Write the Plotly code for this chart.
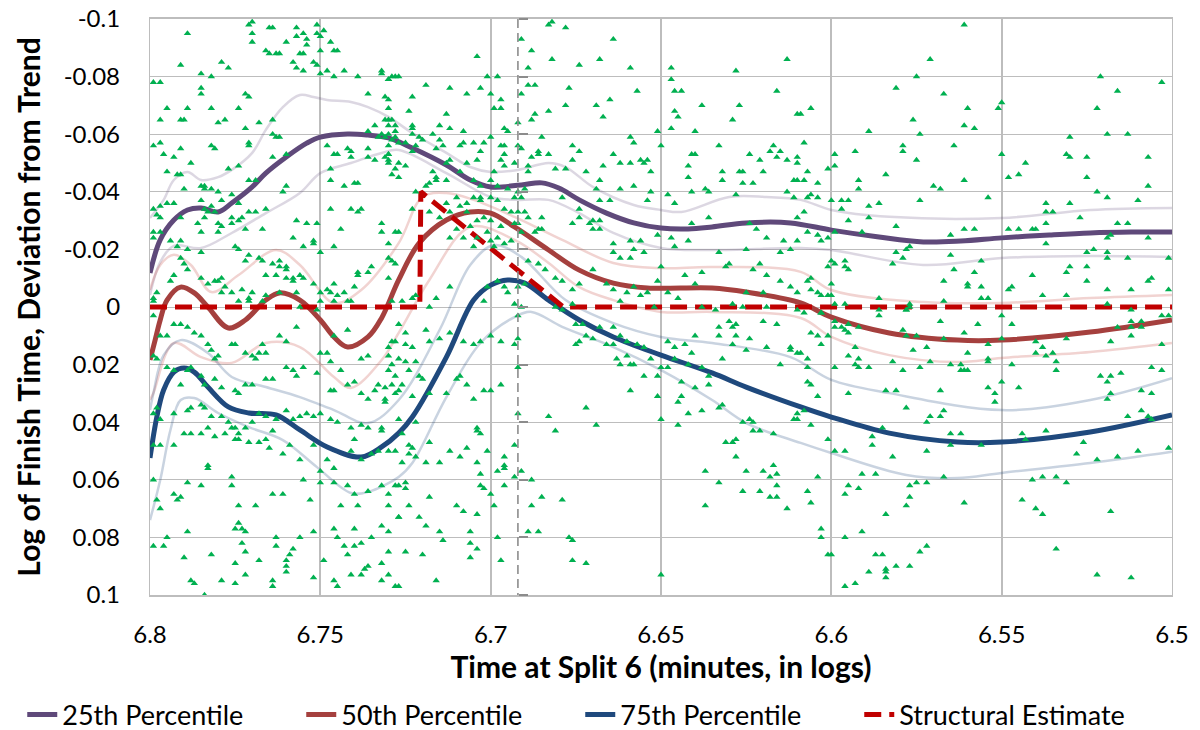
import plotly.graph_objects as go

# ---------------- axis ticks ----------------
x_tick_vals = [6.8, 6.75, 6.7, 6.65, 6.6, 6.55, 6.5]
x_tick_text = ["6.8", "6.75", "6.7", "6.65", "6.6", "6.55", "6.5"]
y_tick_vals = [-0.1, -0.08, -0.06, -0.04, -0.02, 0, 0.02, 0.04, 0.06, 0.08, 0.1]
y_tick_text = ["-0.1", "-0.08", "-0.06", "-0.04", "-0.02", "0", "0.02", "0.04", "0.06", "0.08", "0.1"]

# ---------------- percentile curves ----------------
p25_x = [6.800, 6.797, 6.793, 6.789, 6.785, 6.780, 6.776, 6.770, 6.766, 6.760, 6.754, 6.750, 6.742, 6.736,
         6.730, 6.723, 6.713, 6.706, 6.700, 6.691, 6.685, 6.680, 6.674, 6.666, 6.658, 6.650, 6.642, 6.635,
         6.625, 6.612, 6.600, 6.586, 6.573, 6.562, 6.550, 6.536, 6.524, 6.512, 6.500]
p25_y = [-0.0118, -0.0233, -0.0302, -0.0337, -0.0344, -0.0330, -0.0361, -0.0417, -0.0465, -0.0521, -0.0569,
         -0.0590, -0.0601, -0.0597, -0.0587, -0.0552, -0.0493, -0.0441, -0.0417, -0.0424, -0.0431, -0.0413,
         -0.0372, -0.0326, -0.0292, -0.0274, -0.0271, -0.0278, -0.0292, -0.0292, -0.0267, -0.0243, -0.0226,
         -0.0229, -0.0240, -0.0250, -0.0257, -0.0260, -0.0260]
p25_hi_x = [6.800, 6.796, 6.793, 6.789, 6.785, 6.780, 6.776, 6.770, 6.766, 6.761, 6.756, 6.752, 6.748, 6.741,
            6.736, 6.730, 6.723, 6.713, 6.706, 6.700, 6.692, 6.683, 6.678, 6.670, 6.658, 6.650, 6.644, 6.630,
            6.619, 6.609, 6.600, 6.583, 6.550, 6.524, 6.500]
p25_hi_y = [-0.0309, -0.0372, -0.0441, -0.0469, -0.0441, -0.0451, -0.0476, -0.0535, -0.0615, -0.0694, -0.0736,
            -0.0729, -0.0719, -0.0712, -0.0694, -0.0660, -0.0604, -0.0535, -0.0486, -0.0469, -0.0476, -0.0500,
            -0.0486, -0.0417, -0.0354, -0.0337, -0.0330, -0.0382, -0.0382, -0.0372, -0.0337, -0.0313, -0.0309,
            -0.0337, -0.0344]
p25_lo_x = [6.800, 6.797, 6.793, 6.785, 6.776, 6.766, 6.756, 6.750, 6.741, 6.732, 6.727, 6.713, 6.700, 6.692,
            6.683, 6.674, 6.664, 6.650, 6.635, 6.609, 6.600, 6.573, 6.550, 6.524, 6.500]
p25_lo_y = [-0.0042, -0.0156, -0.0212, -0.0205, -0.0257, -0.0326, -0.0396, -0.0465, -0.0500, -0.0535, -0.0545,
            -0.0465, -0.0382, -0.0372, -0.0372, -0.0326, -0.0257, -0.0205, -0.0198, -0.0205, -0.0198, -0.0146,
            -0.0170, -0.0177, -0.0174]

p50_x = [6.800, 6.7985, 6.797, 6.795, 6.791, 6.787, 6.783, 6.777, 6.772, 6.766, 6.762, 6.756, 6.750, 6.746,
         6.742, 6.736, 6.732, 6.727, 6.721, 6.713, 6.706, 6.700, 6.693, 6.683, 6.674, 6.664, 6.654, 6.635,
         6.625, 6.609, 6.600, 6.583, 6.563, 6.550, 6.524, 6.500]
p50_y = [0.0184, 0.0115, 0.0045, -0.0024, -0.0069, -0.0049, 0.0000, 0.0073, 0.0045, -0.0024, -0.0049, -0.0024,
         0.0045, 0.0104, 0.0139, 0.0104, 0.0038, -0.0094, -0.0222, -0.0302, -0.0330, -0.0326, -0.0278, -0.0198,
         -0.0128, -0.0083, -0.0066, -0.0066, -0.0052, -0.0014, 0.0035, 0.0090, 0.0115, 0.0115, 0.0087, 0.0045]
p50_hi_x = [6.800, 6.797, 6.793, 6.788, 6.782, 6.774, 6.763, 6.756, 6.746, 6.738, 6.727, 6.720, 6.713, 6.705,
            6.693, 6.679, 6.664, 6.650, 6.635, 6.609, 6.600, 6.573, 6.550, 6.524, 6.500]
p50_hi_y = [-0.0059, -0.0146, -0.0181, -0.0146, -0.0052, -0.0111, -0.0198, -0.0146, -0.0014, -0.0059, -0.0222,
            -0.0382, -0.0396, -0.0372, -0.0313, -0.0233, -0.0153, -0.0135, -0.0139, -0.0122, -0.0059, -0.0017,
            -0.0014, -0.0031, -0.0042]
p50_lo_x = [6.800, 6.799, 6.793, 6.785, 6.776, 6.766, 6.756, 6.746, 6.741, 6.732, 6.727, 6.718, 6.706, 6.693,
            6.683, 6.674, 6.664, 6.650, 6.635, 6.609, 6.600, 6.583, 6.563, 6.550, 6.524, 6.500]
p50_lo_y = [0.0323, 0.0299, 0.0125, 0.0174, 0.0194, 0.0125, 0.0139, 0.0243, 0.0281, 0.0184, 0.0090, -0.0094,
            -0.0278, -0.0233, -0.0153, -0.0069, -0.0024, 0.0017, 0.0017, 0.0038, 0.0104, 0.0167, 0.0191, 0.0177,
            0.0156, 0.0125]

p75_x = [6.800, 6.798, 6.796, 6.793, 6.790, 6.787, 6.783, 6.777, 6.771, 6.763, 6.756, 6.748, 6.738, 6.732,
         6.727, 6.723, 6.713, 6.705, 6.700, 6.695, 6.690, 6.683, 6.674, 6.664, 6.650, 6.635, 6.625, 6.609,
         6.600, 6.583, 6.563, 6.550, 6.524, 6.500]
p75_y = [0.0524, 0.0382, 0.0288, 0.0226, 0.0212, 0.0226, 0.0278, 0.0347, 0.0368, 0.0375, 0.0427, 0.0486, 0.0521,
         0.0486, 0.0438, 0.0382, 0.0174, -0.0024, -0.0076, -0.0094, -0.0083, -0.0024, 0.0045, 0.0104, 0.0167,
         0.0229, 0.0278, 0.0347, 0.0382, 0.0438, 0.0469, 0.0469, 0.0434, 0.0375]
p75_hi_x = [6.800, 6.799, 6.796, 6.791, 6.783, 6.776, 6.766, 6.756, 6.746, 6.736, 6.727, 6.715, 6.706, 6.699,
            6.691, 6.678, 6.664, 6.650, 6.635, 6.612, 6.600, 6.583, 6.550, 6.524, 6.500]
p75_hi_y = [0.0358, 0.0299, 0.0167, 0.0115, 0.0160, 0.0243, 0.0278, 0.0313, 0.0358, 0.0403, 0.0323, 0.0080,
            -0.0146, -0.0215, -0.0174, -0.0024, 0.0056, 0.0104, 0.0125, 0.0174, 0.0253, 0.0299, 0.0358, 0.0323,
            0.0247]
p75_lo_x = [6.800, 6.797, 6.794, 6.791, 6.787, 6.780, 6.771, 6.761, 6.751, 6.741, 6.736, 6.727, 6.723, 6.713,
            6.703, 6.693, 6.688, 6.679, 6.664, 6.650, 6.635, 6.625, 6.609, 6.600, 6.578, 6.563, 6.550, 6.524, 6.500]
p75_lo_y = [0.0740, 0.0601, 0.0427, 0.0323, 0.0316, 0.0368, 0.0417, 0.0462, 0.0556, 0.0646, 0.0642, 0.0590,
            0.0542, 0.0313, 0.0125, 0.0035, 0.0017, 0.0069, 0.0139, 0.0219, 0.0323, 0.0403, 0.0472, 0.0507,
            0.0583, 0.0594, 0.0576, 0.0542, 0.0503]

# ---------------- structural estimate ----------------
structural_x = [6.800, 6.7208, 6.7205, 6.6787, 6.500]
structural_y = [0.0, 0.0, -0.040, 0.0, 0.0]

# vertical reference (dashed) line
cutoff_x = 6.692

# ---------------- runners (split time, finish deviation) ----------------
runners_far_left_top = [
    (6.771, -0.098), (6.770, -0.099), (6.770, -0.095), (6.770, -0.092), (6.765, -0.097), (6.764, -0.097),
    (6.789, -0.095), (6.757, -0.097), (6.757, -0.094), (6.755, -0.095), (6.754, -0.093), (6.751, -0.098),
    (6.751, -0.095), (6.750, -0.094), (6.749, -0.096), (6.754, -0.091), (6.760, -0.092), (6.766, -0.089),
    (6.763, -0.088), (6.762, -0.088), (6.765, -0.088), (6.756, -0.088), (6.755, -0.088), (6.750, -0.089),
    (6.747, -0.092), (6.746, -0.089), (6.745, -0.089), (6.791, -0.084), (6.779, -0.085), (6.777, -0.083),
    (6.758, -0.085), (6.757, -0.083), (6.755, -0.082), (6.752, -0.085), (6.751, -0.084), (6.750, -0.081),
    (6.748, -0.082), (6.743, -0.082), (6.739, -0.080), (6.746, -0.080), (6.736, -0.074), (6.732, -0.082),
    (6.730, -0.079), (6.728, -0.080), (6.727, -0.080), (6.799, -0.078), (6.797, -0.078), (6.785, -0.081),
    (6.782, -0.080), (6.785, -0.076), (6.785, -0.074), (6.772, -0.074), (6.771, -0.073), (6.782, -0.069),
    (6.789, -0.069), (6.795, -0.069), (6.797, -0.065), (6.791, -0.065), (6.790, -0.065), (6.780, -0.064),
    (6.778, -0.065), (6.774, -0.069), (6.772, -0.062), (6.768, -0.064), (6.764, -0.065), (6.764, -0.060),
    (6.763, -0.059), (6.762, -0.059), (6.771, -0.057), (6.771, -0.056), (6.799, -0.056), (6.797, -0.057),
    (6.796, -0.053), (6.793, -0.052), (6.791, -0.055), (6.788, -0.050), (6.782, -0.056), (6.781, -0.055),
    (6.777, -0.048), (6.774, -0.049), (6.771, -0.044), (6.769, -0.044), (6.764, -0.052), (6.760, -0.053),
    (6.795, -0.047), (6.792, -0.046), (6.791, -0.046), (6.790, -0.041), (6.785, -0.042), (6.784, -0.042),
    (6.784, -0.041), (6.782, -0.041), (6.785, -0.037), (6.782, -0.035), (6.780, -0.040), (6.779, -0.037),
    (6.776, -0.039), (6.774, -0.036), (6.776, -0.031), (6.774, -0.030), (6.773, -0.031), (6.776, -0.029),
    (6.772, -0.027), (6.767, -0.027), (6.781, -0.033), (6.784, -0.034), (6.799, -0.034), (6.798, -0.032),
    (6.797, -0.031), (6.797, -0.035), (6.795, -0.036), (6.793, -0.036), (6.791, -0.031), (6.786, -0.029),
    (6.784, -0.031), (6.783, -0.033), (6.780, -0.029), (6.779, -0.028), (6.799, -0.026), (6.799, -0.024),
    (6.797, -0.026), (6.794, -0.023), (6.792, -0.021), (6.791, -0.023), (6.789, -0.020), (6.785, -0.019),
    (6.785, -0.026), (6.780, -0.026), (6.771, -0.033), (6.769, -0.033), (6.766, -0.034), (6.761, -0.040),
    (6.760, -0.042), (6.757, -0.030), (6.754, -0.029), (6.758, -0.024), (6.752, -0.023), (6.752, -0.022),
    (6.755, -0.021), (6.750, -0.019), (6.747, -0.044), (6.747, -0.048), (6.746, -0.053), (6.748, -0.056),
    (6.745, -0.053), (6.743, -0.042), (6.740, -0.043), (6.739, -0.043), (6.742, -0.055), (6.741, -0.054),
    (6.741, -0.052), (6.747, -0.034), (6.741, -0.034), (6.739, -0.033), (6.738, -0.034), (6.744, -0.027),
    (6.751, -0.029), (6.775, -0.021), (6.774, -0.020), (6.772, -0.016), (6.771, -0.018), (6.768, -0.017),
    (6.767, -0.016), (6.764, -0.015), (6.762, -0.016), (6.760, -0.013), (6.760, -0.014), (6.762, -0.014),
    (6.766, -0.011), (6.763, -0.011), (6.760, -0.010), (6.758, -0.009), (6.758, -0.010), (6.756, -0.011),
    (6.755, -0.010), (6.746, -0.021), (6.739, -0.012), (6.731, -0.065), (6.729, -0.065), (6.730, -0.063),
    (6.728, -0.059), (6.730, -0.056), (6.730, -0.053), (6.731, -0.052), (6.730, -0.050), (6.727, -0.050),
    (6.736, -0.055), (6.736, -0.052), (6.734, -0.051), (6.728, -0.048), (6.729, -0.046), (6.736, -0.061),
    (6.734, -0.063), (6.733, -0.059), (6.730, -0.060), (6.728, -0.061), (6.727, -0.026), (6.730, -0.017),
    (6.729, -0.016), (6.735, -0.014), (6.736, -0.012), (6.739, -0.011), (6.740, -0.007), (6.746, -0.008),
    (6.748, -0.006), (6.747, -0.005), (6.745, -0.004), (6.743, -0.005), (6.741, -0.002), (6.742, -0.002),
    (6.746, -0.002), (6.750, -0.005), (6.752, -0.008), (6.750, -0.002), (6.757, -0.005), (6.762, -0.005),
    (6.766, -0.004), (6.770, -0.005), (6.771, -0.003), (6.773, -0.006), (6.779, -0.010), (6.780, -0.009),
    (6.783, -0.008), (6.781, -0.009), (6.789, -0.013), (6.790, -0.015), (6.791, -0.017), (6.793, -0.011),
    (6.794, -0.009), (6.798, -0.005), (6.799, -0.003), (6.799, -0.002), (6.785, -0.010), (6.779, -0.005),
    (6.778, -0.007), (6.776, -0.005), (6.774, -0.002), (6.771, -0.002), (6.767, -0.002),
]

runners_far_left_bottom = [
    (6.799, 0.003), (6.797, 0.010), (6.795, 0.010), (6.793, 0.006), (6.791, 0.006), (6.789, 0.007),
    (6.787, 0.009), (6.785, 0.010), (6.783, 0.013), (6.782, 0.015), (6.781, 0.018), (6.780, 0.017),
    (6.776, 0.013), (6.775, 0.013), (6.772, 0.016), (6.770, 0.017), (6.769, 0.018), (6.768, 0.016),
    (6.767, 0.013), (6.766, 0.016), (6.762, 0.010), (6.760, 0.012), (6.757, 0.007), (6.756, 0.000),
    (6.751, 0.001), (6.750, 0.016), (6.748, 0.016), (6.747, 0.019), (6.746, 0.010), (6.742, 0.008),
    (6.738, 0.018), (6.736, 0.017), (6.730, 0.014), (6.729, 0.012), (6.799, 0.017), (6.798, 0.018),
    (6.795, 0.021), (6.793, 0.022), (6.791, 0.027), (6.789, 0.022), (6.788, 0.021), (6.785, 0.024),
    (6.784, 0.027), (6.781, 0.025), (6.779, 0.028), (6.775, 0.029), (6.774, 0.030), (6.772, 0.027),
    (6.770, 0.027), (6.766, 0.025), (6.764, 0.025), (6.760, 0.021), (6.758, 0.022), (6.757, 0.024),
    (6.755, 0.021), (6.751, 0.023), (6.747, 0.029), (6.746, 0.029), (6.744, 0.022), (6.742, 0.027),
    (6.740, 0.026), (6.738, 0.030), (6.736, 0.032), (6.734, 0.029), (6.733, 0.027), (6.731, 0.033),
    (6.729, 0.027), (6.727, 0.029), (6.799, 0.037), (6.798, 0.035), (6.797, 0.039), (6.793, 0.037),
    (6.789, 0.036), (6.788, 0.035), (6.785, 0.034), (6.784, 0.035), (6.782, 0.038), (6.779, 0.038),
    (6.777, 0.040), (6.776, 0.042), (6.775, 0.042), (6.774, 0.044), (6.772, 0.042), (6.770, 0.040),
    (6.768, 0.037), (6.766, 0.038), (6.763, 0.039), (6.760, 0.036), (6.758, 0.039), (6.756, 0.038),
    (6.754, 0.037), (6.752, 0.038), (6.750, 0.037), (6.747, 0.039), (6.745, 0.040), (6.741, 0.042),
    (6.740, 0.046), (6.738, 0.041), (6.736, 0.042), (6.732, 0.042), (6.727, 0.039), (6.799, 0.048),
    (6.797, 0.048), (6.793, 0.048), (6.790, 0.044), (6.788, 0.044), (6.785, 0.044), (6.783, 0.042),
    (6.781, 0.045), (6.778, 0.044), (6.775, 0.046), (6.774, 0.046), (6.771, 0.047), (6.768, 0.047),
    (6.766, 0.046), (6.765, 0.049), (6.764, 0.043), (6.761, 0.051), (6.759, 0.048), (6.756, 0.053),
    (6.752, 0.048), (6.750, 0.057), (6.748, 0.053), (6.746, 0.056), (6.741, 0.050), (6.738, 0.053),
    (6.735, 0.051), (6.733, 0.050), (6.730, 0.050), (6.728, 0.050), (6.799, 0.060), (6.798, 0.067),
    (6.797, 0.070), (6.793, 0.065), (6.792, 0.067), (6.791, 0.066), (6.789, 0.061), (6.785, 0.062),
    (6.783, 0.055), (6.783, 0.056), (6.776, 0.059), (6.776, 0.062), (6.774, 0.069), (6.769, 0.069),
    (6.764, 0.065), (6.761, 0.065), (6.755, 0.060), (6.753, 0.067), (6.750, 0.061), (6.746, 0.061),
    (6.744, 0.069), (6.742, 0.062), (6.740, 0.065), (6.739, 0.069), (6.736, 0.064), (6.732, 0.062),
    (6.730, 0.069), (6.727, 0.073), (6.799, 0.083), (6.796, 0.083), (6.795, 0.080), (6.790, 0.087),
    (6.789, 0.078), (6.782, 0.086), (6.775, 0.077), (6.774, 0.075), (6.773, 0.077), (6.772, 0.078),
    (6.773, 0.082), (6.775, 0.089), (6.772, 0.085), (6.768, 0.088), (6.763, 0.080), (6.763, 0.083),
    (6.760, 0.088), (6.759, 0.086), (6.756, 0.080), (6.752, 0.078), (6.749, 0.088), (6.746, 0.077),
    (6.745, 0.080), (6.743, 0.083), (6.742, 0.086), (6.740, 0.083), (6.740, 0.077), (6.738, 0.082),
    (6.736, 0.090), (6.735, 0.080), (6.732, 0.089), (6.730, 0.085), (6.788, 0.095), (6.787, 0.096),
    (6.784, 0.100), (6.779, 0.095), (6.775, 0.096), (6.772, 0.093), (6.764, 0.095), (6.764, 0.097),
    (6.760, 0.092), (6.760, 0.090), (6.758, 0.084), (6.752, 0.094), (6.746, 0.095), (6.745, 0.097),
    (6.741, 0.093), (6.738, 0.093), (6.737, 0.091), (6.732, 0.095), (6.727, 0.097), (6.730, 0.093),
]

runners_middle_top = [
    (6.683, -0.098), (6.682, -0.099), (6.678, -0.097), (6.664, -0.093), (6.691, -0.093), (6.688, -0.089),
    (6.704, -0.087), (6.682, -0.086), (6.674, -0.084), (6.668, -0.086), (6.659, -0.083), (6.647, -0.083),
    (6.628, -0.082), (6.613, -0.086), (6.689, -0.083), (6.689, -0.077), (6.687, -0.077), (6.691, -0.074),
    (6.677, -0.076), (6.665, -0.072), (6.657, -0.075), (6.647, -0.079), (6.646, -0.075), (6.644, -0.075),
    (6.616, -0.075), (6.701, -0.080), (6.698, -0.080), (6.697, -0.072), (6.700, -0.074), (6.703, -0.076),
    (6.707, -0.074), (6.712, -0.076), (6.719, -0.077), (6.723, -0.073), (6.730, -0.079), (6.729, -0.080),
    (6.730, -0.072), (6.731, -0.073), (6.730, -0.069), (6.732, -0.081), (6.697, -0.069), (6.699, -0.069),
    (6.724, -0.068), (6.713, -0.067), (6.730, -0.065), (6.728, -0.063), (6.723, -0.063), (6.723, -0.062),
    (6.715, -0.063), (6.712, -0.062), (6.708, -0.061), (6.696, -0.062), (6.695, -0.061), (6.692, -0.064),
    (6.687, -0.067), (6.688, -0.065), (6.683, -0.068), (6.678, -0.070), (6.669, -0.070), (6.667, -0.066),
    (6.651, -0.061), (6.647, -0.062), (6.646, -0.068), (6.645, -0.066), (6.638, -0.070), (6.640, -0.061),
    (6.629, -0.065), (6.627, -0.070), (6.609, -0.067), (6.732, -0.060), (6.731, -0.059), (6.729, -0.058),
    (6.727, -0.057), (6.725, -0.057), (6.723, -0.060), (6.721, -0.059), (6.720, -0.058), (6.722, -0.056),
    (6.723, -0.054), (6.725, -0.049), (6.727, -0.045), (6.730, -0.053), (6.730, -0.051), (6.717, -0.060),
    (6.715, -0.058), (6.714, -0.056), (6.713, -0.050), (6.712, -0.051), (6.716, -0.055), (6.717, -0.047),
    (6.709, -0.056), (6.708, -0.057), (6.705, -0.057), (6.707, -0.050), (6.704, -0.051), (6.703, -0.054),
    (6.702, -0.057), (6.700, -0.059), (6.699, -0.047), (6.697, -0.056), (6.696, -0.056), (6.696, -0.053),
    (6.697, -0.051), (6.696, -0.049), (6.693, -0.050), (6.692, -0.056), (6.691, -0.055), (6.688, -0.052),
    (6.689, -0.049), (6.689, -0.047), (6.686, -0.054), (6.686, -0.053), (6.683, -0.053), (6.685, -0.059),
    (6.681, -0.048), (6.678, -0.048), (6.676, -0.056), (6.674, -0.054), (6.676, -0.051), (6.672, -0.047),
    (6.668, -0.044), (6.667, -0.049), (6.664, -0.053), (6.662, -0.050), (6.659, -0.050), (6.659, -0.059),
    (6.658, -0.057), (6.656, -0.051), (6.655, -0.050), (6.654, -0.051), (6.653, -0.047), (6.650, -0.056),
    (6.642, -0.049), (6.642, -0.045), (6.641, -0.053), (6.640, -0.053), (6.633, -0.056), (6.632, -0.047),
    (6.632, -0.044), (6.627, -0.047), (6.626, -0.047), (6.626, -0.043), (6.624, -0.053), (6.623, -0.043),
    (6.621, -0.051), (6.620, -0.047), (6.618, -0.054), (6.617, -0.056), (6.616, -0.052), (6.615, -0.054),
    (6.613, -0.051), (6.610, -0.044), (6.716, -0.045), (6.716, -0.044), (6.713, -0.044), (6.709, -0.047),
    (6.705, -0.044), (6.703, -0.042), (6.700, -0.044), (6.698, -0.042), (6.703, -0.038), (6.703, -0.037),
    (6.700, -0.038), (6.707, -0.036), (6.710, -0.038), (6.707, -0.033), (6.705, -0.038), (6.698, -0.037),
    (6.695, -0.041), (6.692, -0.040), (6.691, -0.038), (6.690, -0.041), (6.693, -0.038), (6.700, -0.030),
    (6.697, -0.028), (6.696, -0.034), (6.694, -0.033), (6.692, -0.033), (6.690, -0.033), (6.689, -0.031),
    (6.686, -0.027), (6.685, -0.027), (6.685, -0.031), (6.687, -0.026), (6.692, -0.029), (6.693, -0.029),
    (6.698, -0.024), (6.700, -0.023), (6.699, -0.021), (6.696, -0.022), (6.694, -0.023), (6.691, -0.026),
    (6.705, -0.021), (6.704, -0.024), (6.706, -0.028), (6.710, -0.027), (6.712, -0.024), (6.708, -0.024),
    (6.701, -0.026), (6.702, -0.031), (6.704, -0.030), (6.709, -0.035), (6.713, -0.036), (6.712, -0.033),
    (6.715, -0.031), (6.718, -0.033), (6.723, -0.034), (6.728, -0.026), (6.732, -0.029), (6.732, -0.026),
    (6.730, -0.022), (6.679, -0.038), (6.676, -0.029), (6.674, -0.034), (6.674, -0.031), (6.671, -0.029),
    (6.670, -0.030), (6.668, -0.030), (6.668, -0.037), (6.669, -0.041), (6.665, -0.037), (6.662, -0.041),
    (6.658, -0.042), (6.654, -0.037), (6.653, -0.040), (6.648, -0.039), (6.646, -0.036), (6.641, -0.040),
    (6.636, -0.040), (6.637, -0.041), (6.628, -0.039), (6.613, -0.040), (6.670, -0.027), (6.668, -0.027),
    (6.664, -0.022), (6.659, -0.023), (6.656, -0.023), (6.651, -0.025), (6.647, -0.024), (6.646, -0.021),
    (6.642, -0.023), (6.641, -0.029), (6.636, -0.031), (6.624, -0.029), (6.622, -0.027), (6.619, -0.024),
    (6.625, -0.020), (6.614, -0.023), (6.664, -0.019), (6.662, -0.017), (6.659, -0.017), (6.658, -0.020),
    (6.655, -0.019), (6.650, -0.014), (6.643, -0.011), (6.640, -0.008), (6.638, -0.012), (6.633, -0.019),
    (6.631, -0.014), (6.630, -0.015), (6.623, -0.013), (6.621, -0.015), (6.619, -0.011), (6.615, -0.009),
    (6.686, -0.015), (6.684, -0.013), (6.681, -0.010), (6.679, -0.009), (6.676, -0.006), (6.674, -0.008),
    (6.670, -0.013), (6.666, -0.008), (6.664, -0.006), (6.662, -0.002), (6.660, -0.005), (6.658, -0.007),
    (6.656, -0.004), (6.654, -0.005), (6.652, 0.000), (6.651, -0.009), (6.648, -0.005), (6.645, -0.003),
    (6.638, 0.000), (6.634, 0.001), (6.629, -0.001), (6.626, 0.000), (6.625, -0.005), (6.620, -0.005),
    (6.619, 0.000), (6.612, -0.007), (6.615, -0.019), (6.689, -0.016), (6.690, -0.008), (6.692, -0.007),
    (6.693, -0.001), (6.695, -0.005), (6.696, -0.007), (6.698, -0.009), (6.701, -0.007), (6.702, -0.002),
    (6.712, -0.007), (6.716, -0.003), (6.718, 0.000), (6.723, -0.003), (6.722, -0.004), (6.726, -0.002),
    (6.729, -0.002), (6.730, -0.010), (6.728, -0.015), (6.719, -0.042), (6.718, -0.043), (6.722, -0.040),
]

runners_middle_bottom = [
    (6.727, 0.006), (6.725, 0.009), (6.719, 0.008), (6.728, 0.012), (6.725, 0.013), (6.723, 0.014),
    (6.718, 0.012), (6.715, 0.011), (6.712, 0.009), (6.708, 0.012), (6.705, 0.013), (6.703, 0.012),
    (6.700, 0.010), (6.697, 0.012), (6.693, 0.013), (6.692, 0.011), (6.730, 0.017), (6.729, 0.020),
    (6.727, 0.018), (6.725, 0.019), (6.722, 0.019), (6.730, 0.022), (6.728, 0.024), (6.724, 0.022),
    (6.721, 0.024), (6.720, 0.025), (6.726, 0.027), (6.731, 0.028), (6.728, 0.030), (6.731, 0.032),
    (6.723, 0.031), (6.718, 0.030), (6.713, 0.030), (6.710, 0.025), (6.709, 0.024), (6.707, 0.027),
    (6.705, 0.032), (6.702, 0.029), (6.700, 0.029), (6.697, 0.027), (6.692, 0.021), (6.692, 0.037),
    (6.691, 0.000), (6.692, 0.003), (6.732, 0.043), (6.726, 0.044), (6.722, 0.040), (6.724, 0.048),
    (6.723, 0.049), (6.724, 0.051), (6.722, 0.052), (6.726, 0.054), (6.718, 0.047), (6.719, 0.054),
    (6.715, 0.054), (6.712, 0.050), (6.709, 0.052), (6.707, 0.049), (6.704, 0.042), (6.704, 0.043),
    (6.703, 0.044), (6.704, 0.054), (6.703, 0.058), (6.701, 0.050), (6.698, 0.057), (6.696, 0.052),
    (6.696, 0.055), (6.696, 0.056), (6.693, 0.048), (6.693, 0.059), (6.691, 0.057), (6.688, 0.060),
    (6.683, 0.038), (6.681, 0.043), (6.672, 0.035), (6.669, 0.041), (6.730, 0.065), (6.727, 0.062),
    (6.728, 0.062), (6.725, 0.061), (6.725, 0.063), (6.718, 0.066), (6.710, 0.069), (6.708, 0.071),
    (6.704, 0.072), (6.703, 0.062), (6.702, 0.063), (6.700, 0.065), (6.699, 0.069), (6.696, 0.062),
    (6.685, 0.066), (6.679, 0.067), (6.688, 0.069), (6.732, 0.076), (6.730, 0.078), (6.727, 0.073),
    (6.724, 0.069), (6.721, 0.073), (6.719, 0.076), (6.715, 0.078), (6.714, 0.081), (6.706, 0.078),
    (6.706, 0.082), (6.704, 0.084), (6.706, 0.087), (6.698, 0.080), (6.689, 0.078), (6.686, 0.078),
    (6.677, 0.080), (6.676, 0.081), (6.728, 0.097), (6.725, 0.085), (6.720, 0.086), (6.716, 0.095),
    (6.697, 0.088), (6.676, 0.088), (6.672, 0.089), (6.650, 0.093), (6.681, 0.000), (6.679, 0.001),
    (6.676, -0.001), (6.675, 0.006), (6.673, 0.006), (6.672, 0.010), (6.670, 0.011), (6.668, 0.007),
    (6.666, 0.013), (6.664, 0.007), (6.662, 0.010), (6.663, 0.018), (6.662, 0.020), (6.660, 0.017),
    (6.659, 0.020), (6.658, 0.020), (6.655, 0.024), (6.653, 0.018), (6.651, 0.024), (6.650, 0.021),
    (6.648, 0.021), (6.646, 0.018), (6.644, 0.026), (6.642, 0.020), (6.640, 0.028), (6.638, 0.021),
    (6.636, 0.024), (6.636, 0.027), (6.632, 0.018), (6.633, 0.035), (6.632, 0.034), (6.644, 0.031),
    (6.645, 0.033), (6.642, 0.037), (6.638, 0.036), (6.645, 0.041), (6.626, 0.040), (6.624, 0.039),
    (6.623, 0.040), (6.621, 0.043), (6.623, 0.043), (6.617, 0.044), (6.631, 0.047), (6.629, 0.047),
    (6.628, 0.046), (6.628, 0.052), (6.625, 0.057), (6.620, 0.057), (6.618, 0.059), (6.617, 0.055),
    (6.616, 0.058), (6.616, 0.062), (6.621, 0.064), (6.618, 0.066), (6.616, 0.066), (6.626, 0.064),
    (6.633, 0.061), (6.637, 0.057), (6.637, 0.069), (6.613, 0.070), (6.659, 0.029), (6.651, 0.031),
    (6.650, 0.039), (6.674, 0.012), (6.675, 0.013), (6.664, 0.013), (6.660, 0.012), (6.657, 0.013),
    (6.655, 0.014), (6.648, 0.012), (6.640, 0.010), (6.633, 0.007), (6.629, 0.007), (6.628, 0.010),
    (6.624, 0.011), (6.619, 0.014), (6.615, 0.020), (6.612, 0.015), (6.609, 0.016), (6.610, 0.039),
    (6.629, 0.013), (6.625, 0.015), (6.620, 0.005), (6.616, 0.006), (6.630, 0.005), (6.628, 0.006),
    (6.633, 0.010), (6.646, 0.014), (6.643, 0.013), (6.641, 0.016),
]

runners_right_top = [
    (6.561, -0.098), (6.571, -0.086), (6.575, -0.080), (6.581, -0.076), (6.567, -0.074), (6.560, -0.069),
    (6.561, -0.063), (6.558, -0.062), (6.576, -0.065), (6.574, -0.060), (6.610, -0.067), (6.606, -0.069),
    (6.589, -0.061), (6.551, -0.069), (6.550, -0.071), (6.521, -0.080), (6.516, -0.075), (6.522, -0.069),
    (6.519, -0.060), (6.513, -0.060), (6.503, -0.078), (6.530, -0.059), (6.531, -0.053), (6.530, -0.052),
    (6.525, -0.052), (6.507, -0.052), (6.525, -0.045), (6.507, -0.042), (6.543, -0.050), (6.545, -0.046),
    (6.548, -0.045), (6.550, -0.053), (6.564, -0.056), (6.579, -0.056), (6.579, -0.054), (6.575, -0.051),
    (6.584, -0.046), (6.592, -0.044), (6.592, -0.041), (6.593, -0.054), (6.599, -0.053), (6.599, -0.049),
    (6.601, -0.048), (6.604, -0.043), (6.607, -0.047), (6.608, -0.057), (6.610, -0.052), (6.610, -0.050),
    (6.608, -0.044), (6.611, -0.044), (6.570, -0.042), (6.568, -0.041), (6.561, -0.044), (6.554, -0.038),
    (6.574, -0.037), (6.586, -0.036), (6.589, -0.035), (6.595, -0.037), (6.597, -0.037), (6.600, -0.037),
    (6.604, -0.038), (6.606, -0.039), (6.607, -0.038), (6.611, -0.038), (6.610, -0.031), (6.608, -0.033),
    (6.597, -0.034), (6.595, -0.030), (6.589, -0.031), (6.581, -0.028), (6.591, -0.026), (6.599, -0.026),
    (6.601, -0.024), (6.603, -0.023), (6.604, -0.025), (6.607, -0.026), (6.610, -0.023), (6.612, -0.020),
    (6.600, -0.016), (6.599, -0.015), (6.596, -0.016), (6.595, -0.013), (6.596, -0.014), (6.582, -0.015),
    (6.581, -0.019), (6.579, -0.017), (6.578, -0.020), (6.577, -0.021), (6.565, -0.025), (6.565, -0.018),
    (6.561, -0.027), (6.558, -0.027), (6.556, -0.016), (6.548, -0.027), (6.545, -0.027), (6.541, -0.027),
    (6.540, -0.027), (6.537, -0.029), (6.537, -0.022), (6.537, -0.033), (6.537, -0.036), (6.535, -0.033),
    (6.530, -0.036), (6.527, -0.031), (6.522, -0.040), (6.519, -0.038), (6.510, -0.037), (6.516, -0.029),
    (6.513, -0.029), (6.519, -0.024), (6.518, -0.025), (6.507, -0.024), (6.525, -0.019), (6.523, -0.020),
    (6.519, -0.019), (6.519, -0.017), (6.513, -0.017), (6.501, -0.017), (6.530, -0.014), (6.531, -0.012),
    (6.525, -0.014), (6.525, -0.009), (6.541, -0.011), (6.567, -0.009), (6.564, -0.013), (6.560, -0.008),
    (6.560, -0.007), (6.558, -0.012), (6.556, -0.007), (6.556, -0.003), (6.548, -0.006), (6.547, -0.007),
    (6.538, -0.004), (6.531, -0.004), (6.519, -0.006), (6.512, -0.006), (6.507, -0.009), (6.506, -0.010),
    (6.501, -0.006), (6.606, -0.010), (6.607, -0.009), (6.601, -0.014), (6.600, -0.008), (6.601, -0.004),
    (6.600, -0.004), (6.603, -0.004), (6.604, -0.005), (6.606, -0.006), (6.610, -0.005), (6.608, 0.002),
    (6.603, 0.002), (6.599, -0.001), (6.596, -0.001), (6.586, -0.003), (6.578, 0.001), (6.577, 0.000),
    (6.567, -0.002), (6.554, -0.003),
]

runners_right_bottom = [
    (6.610, 0.001), (6.603, 0.002), (6.586, 0.001), (6.586, 0.003), (6.578, 0.001), (6.577, -0.001),
    (6.512, 0.001), (6.519, -0.001), (6.503, 0.003), (6.501, 0.003), (6.550, 0.003), (6.599, 0.005),
    (6.599, 0.007), (6.597, 0.007), (6.596, 0.008), (6.595, 0.009), (6.595, 0.006), (6.592, 0.007),
    (6.606, 0.009), (6.604, 0.010), (6.601, 0.010), (6.603, 0.013), (6.610, 0.016), (6.612, 0.014),
    (6.579, 0.008), (6.578, 0.010), (6.575, 0.010), (6.568, 0.005), (6.561, 0.009), (6.557, 0.006),
    (6.547, 0.006), (6.567, 0.011), (6.550, 0.011), (6.540, 0.012), (6.531, 0.011), (6.512, 0.005),
    (6.509, 0.005), (6.509, 0.007), (6.512, 0.007), (6.512, 0.010), (6.516, 0.007), (6.518, 0.012),
    (6.503, 0.013), (6.560, 0.016), (6.554, 0.013), (6.554, 0.018), (6.554, 0.019), (6.540, 0.016),
    (6.538, 0.014), (6.537, 0.017), (6.535, 0.016), (6.534, 0.019), (6.534, 0.022), (6.547, 0.020),
    (6.571, 0.019), (6.574, 0.021), (6.576, 0.015), (6.572, 0.014), (6.579, 0.022), (6.582, 0.019),
    (6.589, 0.021), (6.592, 0.021), (6.593, 0.020), (6.595, 0.017), (6.592, 0.018), (6.593, 0.014),
    (6.599, 0.021), (6.607, 0.018), (6.607, 0.021), (6.607, 0.026), (6.606, 0.027), (6.604, 0.031),
    (6.595, 0.030), (6.584, 0.029), (6.581, 0.029), (6.568, 0.029), (6.565, 0.020), (6.562, 0.020),
    (6.562, 0.022), (6.561, 0.022), (6.560, 0.022), (6.554, 0.028), (6.552, 0.030), (6.552, 0.033),
    (6.550, 0.026), (6.545, 0.028), (6.521, 0.024), (6.519, 0.026), (6.518, 0.024), (6.518, 0.030),
    (6.515, 0.023), (6.519, 0.032), (6.506, 0.021), (6.503, 0.022), (6.509, 0.029), (6.506, 0.030),
    (6.513, 0.038), (6.509, 0.036), (6.507, 0.038), (6.506, 0.039), (6.611, 0.039), (6.610, 0.037),
    (6.608, 0.036), (6.606, 0.041), (6.601, 0.046), (6.599, 0.050), (6.596, 0.050), (6.588, 0.045),
    (6.588, 0.048), (6.585, 0.042), (6.582, 0.052), (6.578, 0.035), (6.572, 0.040), (6.571, 0.038),
    (6.568, 0.038), (6.567, 0.036), (6.565, 0.044), (6.562, 0.044), (6.565, 0.048), (6.572, 0.050),
    (6.556, 0.048), (6.544, 0.044), (6.543, 0.046), (6.537, 0.043), (6.526, 0.047), (6.528, 0.051),
    (6.522, 0.053), (6.516, 0.052), (6.510, 0.050), (6.501, 0.049), (6.604, 0.059), (6.607, 0.064),
    (6.606, 0.068), (6.596, 0.065), (6.595, 0.062), (6.592, 0.063), (6.591, 0.058), (6.587, 0.058),
    (6.584, 0.072), (6.578, 0.069), (6.577, 0.066), (6.577, 0.062), (6.575, 0.061), (6.572, 0.061),
    (6.567, 0.059), (6.561, 0.068), (6.544, 0.067), (6.541, 0.060), (6.540, 0.070), (6.538, 0.059),
    (6.538, 0.072), (6.534, 0.059), (6.531, 0.061), (6.518, 0.071), (6.603, 0.077), (6.603, 0.080),
    (6.601, 0.086), (6.600, 0.086), (6.596, 0.080), (6.591, 0.078), (6.589, 0.092), (6.587, 0.086),
    (6.585, 0.086), (6.584, 0.091), (6.584, 0.092), (6.584, 0.094), (6.581, 0.090), (6.577, 0.090),
    (6.574, 0.085), (6.572, 0.083), (6.596, 0.097), (6.593, 0.096), (6.534, 0.084), (6.522, 0.093),
    (6.512, 0.094),
]

# ---------------- build figure ----------------
all_runners = (runners_far_left_top + runners_far_left_bottom + runners_middle_top
               + runners_middle_bottom + runners_right_top + runners_right_bottom)
runner_x = [p[0] for p in all_runners]
runner_y = [p[1] for p in all_runners]

PURPLE = "#5F497A"
BROWN = "#A5403E"
BLUE = "#1F497D"
PURPLE_LIGHT = "rgba(95,73,122,0.22)"
BROWN_LIGHT = "rgba(200,80,70,0.25)"
BLUE_LIGHT = "rgba(31,73,125,0.24)"

fig = go.Figure()

band_specs = [
    (p25_hi_x, p25_hi_y, PURPLE_LIGHT), (p25_lo_x, p25_lo_y, PURPLE_LIGHT),
    (p50_hi_x, p50_hi_y, BROWN_LIGHT), (p50_lo_x, p50_lo_y, BROWN_LIGHT),
    (p75_hi_x, p75_hi_y, BLUE_LIGHT), (p75_lo_x, p75_lo_y, BLUE_LIGHT),
]
for bx, by, bc in band_specs:
    fig.add_trace(go.Scatter(x=bx, y=by, mode="lines", showlegend=False, hoverinfo="skip",
                             line=dict(color=bc, width=2.5, shape="spline", smoothing=1.0)))

fig.add_trace(go.Scatter(x=p25_x, y=p25_y, mode="lines", name="25th Percentile",
                         line=dict(color=PURPLE, width=5, shape="spline", smoothing=1.0)))
fig.add_trace(go.Scatter(x=p50_x, y=p50_y, mode="lines", name="50th Percentile",
                         line=dict(color=BROWN, width=5, shape="spline", smoothing=1.0)))
fig.add_trace(go.Scatter(x=p75_x, y=p75_y, mode="lines", name="75th Percentile",
                         line=dict(color=BLUE, width=5, shape="spline", smoothing=1.0)))
fig.add_trace(go.Scatter(x=structural_x, y=structural_y, mode="lines", name="Structural Estimate",
                         line=dict(color="#C00000", width=5, dash="17px,8px")))

# dashed reference line with its own tick marks
fig.add_trace(go.Scatter(x=[cutoff_x, cutoff_x], y=[y_tick_vals[0], y_tick_vals[-1]], mode="lines",
                         yaxis="y2", showlegend=False, hoverinfo="skip",
                         line=dict(color="#8C8C8C", width=1.6, dash="9px,5px")))

fig.add_trace(go.Scatter(x=runner_x, y=runner_y, mode="markers", showlegend=False,
                         marker=dict(symbol="triangle-up", size=6.5, color="#00B050", line=dict(width=0))))

x_lo, x_hi = x_tick_vals[0], x_tick_vals[-1]
y_top, y_bottom = y_tick_vals[0], y_tick_vals[-1]

fig.update_layout(
    width=1200, height=730,
    margin=dict(l=150, r=28, t=19, b=135, autoexpand=False),
    paper_bgcolor="white", plot_bgcolor="white",
    font=dict(family="Lato, 'Open Sans', sans-serif", color="#000000", size=24),
    showlegend=True,
    legend=dict(orientation="h", xref="paper", yref="paper", x=-0.125, xanchor="left",
                y=-0.2083, yanchor="middle", font=dict(size=27), entrywidth=234, entrywidthmode="pixels",
                traceorder="normal", bgcolor="rgba(0,0,0,0)"),
    xaxis=dict(range=[x_lo, x_hi], tickvals=x_tick_vals, ticktext=x_tick_text,
               showgrid=True, gridcolor="#BDBDBD", gridwidth=2, zeroline=False,
               showline=True, linecolor="#BDBDBD", linewidth=2, mirror=True,
               ticks="outside", ticklen=17, tickcolor="white", tickfont=dict(size=24),
               title=dict(text="<b>Time at Split 6 (minutes, in logs)</b>", font=dict(size=30), standoff=4)),
    yaxis=dict(range=[y_bottom, y_top], tickvals=y_tick_vals, ticktext=y_tick_text,
               showgrid=True, gridcolor="#BDBDBD", gridwidth=1.3, zeroline=False,
               showline=True, linecolor="#BDBDBD", linewidth=1.3, mirror=True,
               ticks="outside", ticklen=24, tickcolor="white", tickfont=dict(size=24),
               title=dict(text="<b>Log of Finish Time, Deviation from Trend</b>", font=dict(size=30), standoff=14)),
    yaxis2=dict(range=[y_bottom, y_top], overlaying="y", anchor="free", side="right",
                position=(x_lo - cutoff_x) / (x_lo - x_hi), tickvals=y_tick_vals,
                showticklabels=False, showgrid=False, zeroline=False, showline=False,
                ticks="outside", ticklen=9, tickwidth=1.6, tickcolor="#8C8C8C"),
)

fig.write_html("out.html")
